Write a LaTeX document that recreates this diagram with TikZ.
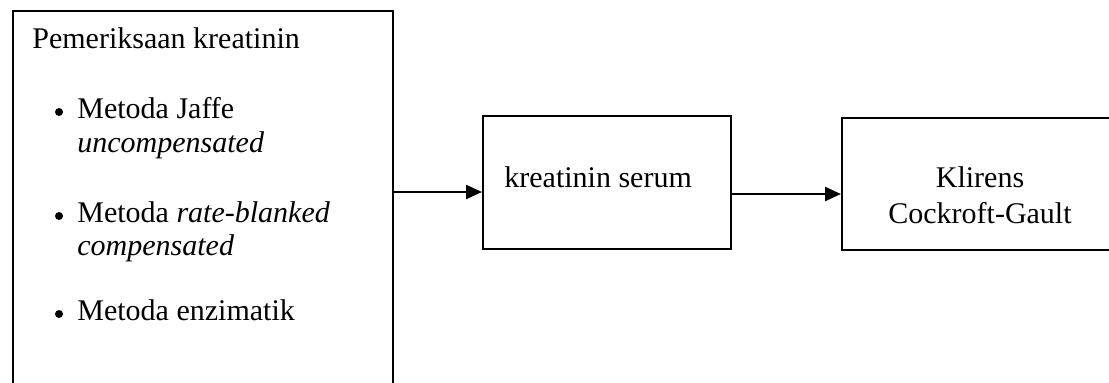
\documentclass[tikz,border=0pt]{standalone}
\usepackage{fontspec}
\setmainfont{Liberation Serif}
\usetikzlibrary{arrows.meta}

\begin{document}
\begin{tikzpicture}[x=0.5pt, y=-0.5pt, >={Triangle[length=8pt,width=7pt]},
  line cap=butt, line join=miter,
  font=\fontsize{15}{18}\selectfont,
  kotak/.style={draw, line width=1.2pt, rectangle, inner sep=0pt},
  teks/.style={anchor=base west, inner sep=0pt},
  titik/.style={circle, fill, inner sep=0pt, minimum size=4pt},
  panah/.style={->, line width=1.2pt}]
  \useasboundingbox (0,0) rectangle (1109,382);
  \clip (0,0) rectangle (1109,382);

  % Kotak pemeriksaan (bagian bawah terpotong)
  \node[kotak, anchor=north west, minimum width=190pt, minimum height=200pt] (periksa) at (12,10) {};
  \node[teks] (judul) at (32,48) {Pemeriksaan kreatinin};

  \node[titik] (b1) at (59,112) {};
  \node[teks] (jaffe) at (77,118) {Metoda Jaffe};
  \node[teks] (jaffeb) at (77,152) {\itshape uncompensated};

  \node[titik] (b2) at (59,216) {};
  \node[teks] (rate) at (77,222) {Metoda \textit{rate-blanked}};
  \node[teks] (rateb) at (77,255) {\itshape compensated};

  \node[titik] (b3) at (59,314) {};
  \node[teks] (enzim) at (77,320) {Metoda enzimatik};

  % Kreatinin serum
  \node[kotak, anchor=north west, minimum width=124pt, minimum height=66.5pt] (serum) at (482,115) {};
  \node[teks] (serumt) at (504,187) {kreatinin serum};

  % Klirens (sisi kanan terpotong)
  \node[kotak, anchor=north west, minimum width=145pt, minimum height=66pt] (klirens) at (841,117) {};
  \node[anchor=base, inner sep=0pt] (klirens1) at (980,187) {Klirens};
  \node[anchor=base, inner sep=0pt] (klirens2) at (980,223) {Cockroft-Gault};

  % Panah
  \coordinate (p1) at (0,192);
  \coordinate (p2) at (0,194);
  \draw[panah] (periksa.east |- p1) -- (serum.west |- p1);
  \draw[panah] (serum.east |- p2) -- (klirens.west |- p2);
\end{tikzpicture}
\end{document}
